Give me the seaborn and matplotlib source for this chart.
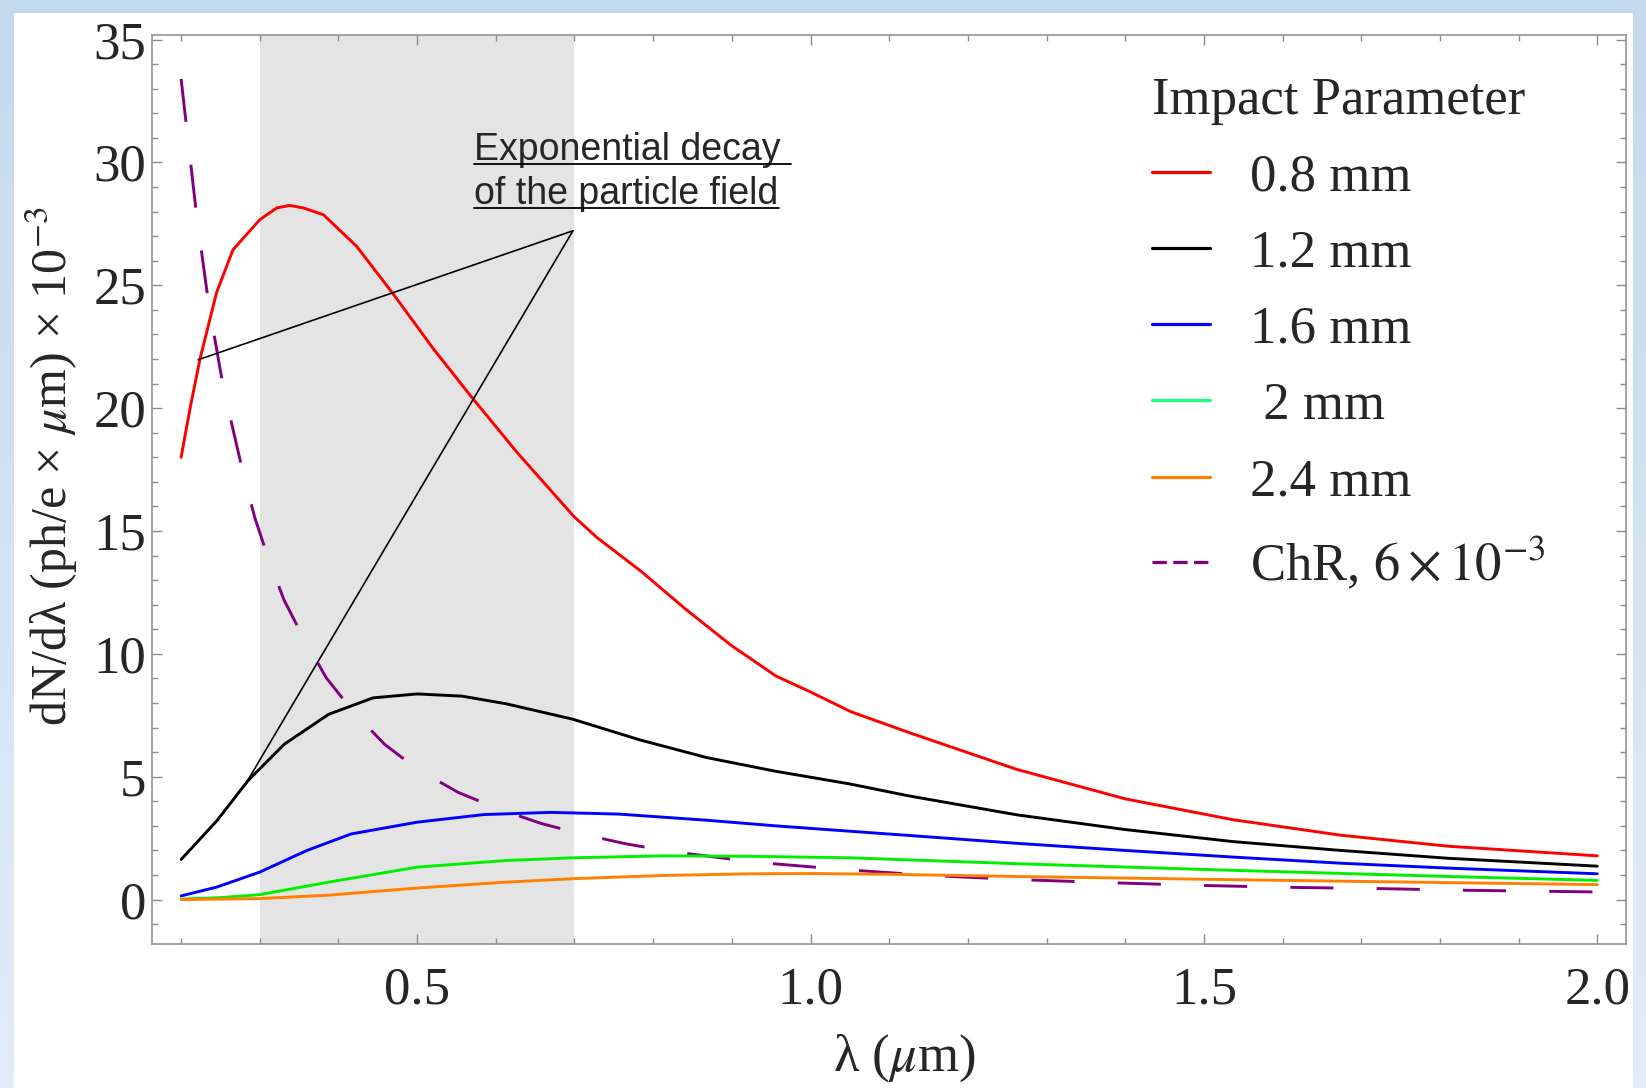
import numpy as np
import pandas as pd
import seaborn as sns
import matplotlib
matplotlib.use("Agg")
import matplotlib.pyplot as plt
from matplotlib.lines import Line2D
from matplotlib.patches import Rectangle
from matplotlib.transforms import IdentityTransform

# ---------------- data ----------------
lam_08 = [0.200, 0.212, 0.224, 0.245, 0.266, 0.300, 0.3215, 0.338, 0.3555, 0.381, 0.423, 0.470,
          0.521, 0.568, 0.627, 0.699, 0.728, 0.785, 0.842, 0.899, 0.956, 1.000, 1.051, 1.125,
          1.262, 1.400, 1.537, 1.674, 1.811, 2.000]
val_08 = [18.0, 20.1, 22.0, 24.7, 26.45, 27.67, 28.15, 28.25, 28.15, 27.87, 26.59, 24.63,
          22.4, 20.5, 18.2, 15.6, 14.75, 13.35, 11.8, 10.35, 9.1, 8.45, 7.65, 6.8,
          5.3, 4.1, 3.25, 2.62, 2.17, 1.78]

lam_12 = [0.200, 0.2455, 0.285, 0.331, 0.3875, 0.444, 0.500, 0.557, 0.613, 0.698, 0.783, 0.868,
          0.956, 1.000, 1.051, 1.125, 1.262, 1.400, 1.537, 1.674, 1.811, 2.000]
val_12 = [1.63, 3.21, 4.84, 6.32, 7.54, 8.21, 8.37, 8.28, 7.97, 7.34, 6.5, 5.78,
          5.22, 4.98, 4.7, 4.22, 3.45, 2.85, 2.36, 2.0, 1.68, 1.36]

lam_16 = [0.200, 0.2455, 0.300, 0.360, 0.416, 0.500, 0.585, 0.670, 0.756, 0.868, 0.956, 1.051,
          1.125, 1.262, 1.400, 1.537, 1.674, 1.811, 2.000]
val_16 = [0.15, 0.51, 1.12, 2.0, 2.67, 3.15, 3.46, 3.55, 3.48, 3.23, 3.0, 2.78,
          2.61, 2.29, 2.0, 1.73, 1.48, 1.28, 1.05]

lam_20 = [0.200, 0.250, 0.300, 0.3875, 0.500, 0.613, 0.698, 0.812, 0.925, 1.051, 1.262, 1.537,
          1.811, 2.000]
val_20 = [0.02, 0.08, 0.2, 0.71, 1.32, 1.59, 1.70, 1.78, 1.76, 1.70, 1.46, 1.19,
          0.94, 0.78]

lam_24 = [0.200, 0.300, 0.3875, 0.500, 0.613, 0.698, 0.812, 0.925, 1.000, 1.100, 1.262, 1.537,
          1.811, 2.000]
val_24 = [0.0, 0.04, 0.18, 0.47, 0.71, 0.85, 0.98, 1.05, 1.06, 1.03, 0.94, 0.81,
          0.69, 0.61]

lam_chr = [0.200, 0.2069, 0.2196, 0.2345, 0.2536, 0.279, 0.2937, 0.3108, 0.3307, 0.356, 0.3846,
           0.4187, 0.4586, 0.500, 0.5523, 0.6035, 0.6574, 0.7086, 0.7653, 0.819, 0.879, 0.930,
           0.990, 1.043, 1.152, 1.268, 1.378, 1.491, 1.604, 1.718, 1.831, 2.000]
val_chr = [33.4, 31.45, 27.87, 24.36, 20.85, 17.33, 15.54, 13.89, 12.2, 10.62, 9.02,
           7.65, 6.32, 5.31, 4.36, 3.69, 3.1, 2.67, 2.27, 1.97, 1.73, 1.52,
           1.36, 1.22, 0.98, 0.81, 0.69, 0.58, 0.50, 0.45, 0.38, 0.31]

series_labels = ["0.8 mm", "1.2 mm", "1.6 mm", " 2 mm", "2.4 mm", "ChR, $6\\times10^{-3}$"]
legend_title = "Impact Parameter"
x_ticks = [0.5, 1.0, 1.5, 2.0]
x_tick_labels = ["0.5", "1.0", "1.5", "2.0"]
y_ticks = [0, 5, 10, 15, 20, 25, 30, 35]
shade_range = [0.3, 0.7]
note_lines = ["Exponential decay ", "of the particle field"]
note_apex = (0.698, 27.22)
note_targets = [(0.2217, 21.97), (0.2795, 4.57)]

# ---------------- style ----------------
sns.set_style("ticks")
plt.rcParams['font.family'] = ['Liberation Serif', 'DejaVu Serif']
plt.rcParams['mathtext.fontset'] = 'stix'

W, H = 1646, 1088
fig = plt.figure(figsize=(W / 100, H / 100), dpi=100)

# slide-like background
bg = fig.add_axes([0, 0, 1, 1], zorder=-10)
grad = np.linspace(0, 1, 256).reshape(-1, 1)
top_c = np.array([0.773, 0.851, 0.929])
bot_c = np.array([0.890, 0.925, 0.965])
img = top_c[None, None, :] * (1 - grad[:, :, None]) + bot_c[None, None, :] * grad[:, :, None]
bg.imshow(img, aspect='auto', extent=[0, 1, 0, 1], origin='upper')
bg.add_patch(Rectangle((14 / W, 0), (1633 - 14) / W, 1 - 13 / H, color='white', lw=0))
bg.set_xlim(0, 1)
bg.set_ylim(0, 1)
bg.axis('off')

left, right = 152 / W, 1625.6 / W
bottom, top = 1 - 944.3 / H, 1 - 34.7 / H
ax = fig.add_axes([left, bottom, right - left, top - bottom])
ax.set_facecolor('white')

ax.axvspan(shade_range[0], shade_range[1], color='#e4e4e4', lw=0, zorder=0)

lw = 2.1
colors = ['#ff0000', '#000000', '#0000ff', '#00f000', '#ff8000', '#800080']
curves = [(lam_08, val_08), (lam_12, val_12), (lam_16, val_16),
          (lam_20, val_20), (lam_24, val_24)]
for (lx, ly), c in zip(curves, colors[:5]):
    df = pd.DataFrame({'lam': lx, 'val': ly})
    sns.lineplot(data=df, x='lam', y='val', color=c, lw=lw, ax=ax, zorder=3)

df_chr = pd.DataFrame({'lam': lam_chr, 'val': val_chr})
sns.lineplot(data=df_chr, x='lam', y='val', color=colors[5], lw=lw, ax=ax,
             linestyle=(0, (14.8, 14.8)), zorder=2)

# annotation callout lines
for tgt in note_targets:
    ax.annotate('', xy=tgt, xytext=note_apex,
                arrowprops=dict(arrowstyle='-', color='black', lw=1.2,
                                shrinkA=0, shrinkB=0), zorder=4)

t1 = ax.text(0.5726, 30.12, note_lines[0], family='Liberation Sans', fontsize=27,
             va='baseline', ha='left', zorder=5)
t2 = ax.text(0.5726, 28.30, note_lines[1], family='Liberation Sans', fontsize=27,
             va='baseline', ha='left', zorder=5)

# axes formatting
ax.set_xlim(0.163, 2.036)
ax.set_ylim(-1.82, 35.2)
ax.set_xticks(x_ticks)
ax.set_xticklabels(x_tick_labels)
ax.set_xticks(np.arange(0.2, 2.001, 0.1), minor=True)
ax.set_yticks(y_ticks)
ax.set_yticks(np.arange(-1, 36, 1), minor=True)
ax.tick_params(which='both', direction='in', top=True, right=True, color='#8c8c8c', width=1.0)
ax.tick_params(which='major', length=7, labelsize=38)
ax.tick_params(which='minor', length=4)
ax.tick_params(axis='x', which='major', pad=16)
ax.tick_params(axis='y', which='major', pad=4)
for s in ax.spines.values():
    s.set_color('#8c8c8c')
    s.set_linewidth(1.1)
ax.set_xlabel('')
ax.set_ylabel('')

fig.text(904 / W, 1 - 1058 / H, "λ ($\\mu$m)", fontsize=38, ha='center', va='center')
fig.text(52 / W, 1 - 466 / H, "dN/dλ (ph/e × $\\mu$m) × 10$^{-3}$", fontsize=36,
         rotation=90, ha='center', va='center')

# legend
leg_colors = ['#ff0000', '#000000', '#0000ff', '#1aff80', '#ff8000', '#800080']
handles = []
for i, c in enumerate(leg_colors):
    if i < 5:
        handles.append(Line2D([], [], color=c, lw=2.3))
    else:
        handles.append(Line2D([], [], color=c, lw=2.3, linestyle=(0, (4.5, 2.0))))
leg = ax.legend(handles, series_labels, title=legend_title, loc='upper left',
                bbox_to_anchor=(1152 / W, 1 - 77 / H), bbox_transform=fig.transFigure,
                frameon=False, fontsize=38, title_fontsize=38, alignment='left',
                handlelength=1.1, handletextpad=0.75, labelspacing=0.535,
                borderpad=0, borderaxespad=0)

# underline the note text
fig.canvas.draw()
r = fig.canvas.get_renderer()
for t in (t1, t2):
    bb = t.get_window_extent(r)
    _, yb = ax.transData.transform(t.get_position())
    fig.add_artist(Line2D([bb.x0, bb.x1], [yb - 4, yb - 4], transform=IdentityTransform(),
                          color='black', lw=1.3))

fig.savefig('out.png', dpi=100)
